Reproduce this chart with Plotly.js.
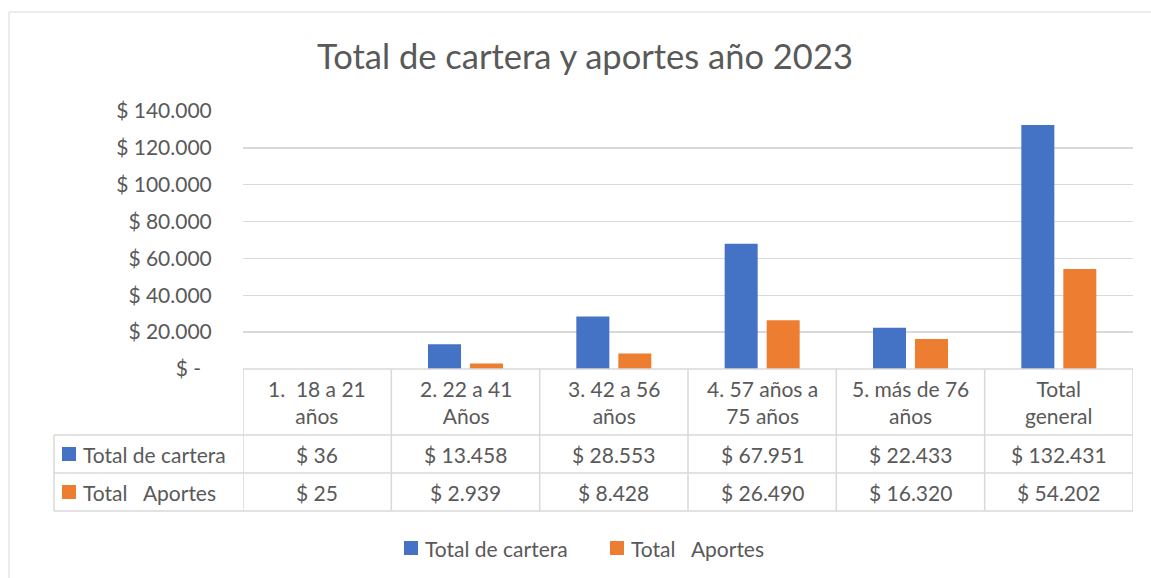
<!DOCTYPE html>
<html>
<head>
<meta charset="utf-8">
<script src="https://cdn.plot.ly/plotly-3.0.1.min.js"></script>
<style>
  html, body { margin: 0; padding: 0; background: #fff; }
  #chart { width: 1151px; height: 578px; }
</style>
</head>
<body>
<div id="chart"></div>
<script>
// ---- Data ----
const categories = ["1.  18 a 21<br>años", "2. 22 a 41<br>Años", "3. 42 a 56<br>años", "4. 57 años a<br>75 años", "5. más de 76<br>años", "Total<br>general"];
const cartera = [36, 13458, 28553, 67951, 22433, 132431];
const aportes = [25, 2939, 8428, 26490, 16320, 54202];
const seriesNames = ["Total de cartera", "Total\u00a0\u00a0\u00a0Aportes"];
const tickVals = [0, 20000, 40000, 60000, 80000, 100000, 120000, 140000];
const tickText = ["$ -\u00a0\u00a0", "$ 20.000", "$ 40.000", "$ 60.000", "$ 80.000", "$ 100.000", "$ 120.000", "$ 140.000"];

const BLUE = "#4472C4", ORANGE = "#ED7D31", TXT = "#595959", GRID = "#d9d9d9";
const FONT = "Lato, 'Open Sans', sans-serif";

function fmt(v) {
  return "$ " + String(v).replace(/\B(?=(\d{3})+(?!\d))/g, ".");
}

const xIdx = categories.map((c, i) => i);

// pixel geometry helpers (plot area: x 243..1133, y 111..369)
const L = 243, R = 1133, T = 111, B = 369;
const px = X => (X - L) / (R - L);       // paper x
const py = Y => (B - Y) / (B - T);       // paper y

const traces = [
  { type: "bar", x: xIdx, y: cartera, name: seriesNames[0], marker: { color: BLUE },
    width: 0.2225, offset: -0.2528, hoverinfo: "y" },
  { type: "bar", x: xIdx, y: aportes, name: seriesNames[1], marker: { color: ORANGE },
    width: 0.2225, offset: 0.0303, hoverinfo: "y" }
];

const shapes = [];
const annotations = [];

// outer chart border
shapes.push({ type: "rect", xref: "paper", yref: "paper", x0: px(9), x1: px(1160), y0: py(590), y1: py(12),
  line: { color: GRID, width: 1 }, fillcolor: "rgba(0,0,0,0)", layer: "below" });

// table horizontal lines
const rowY = [435, 473, 511];
shapes.push({ type: "line", xref: "paper", yref: "paper", x0: 0, x1: 1, y0: 0, y1: 0, line: { color: GRID, width: 1.5 } });
rowY.forEach(Y => shapes.push({ type: "line", xref: "paper", yref: "paper", x0: px(54), x1: 1, y0: py(Y), y1: py(Y), line: { color: GRID, width: 1.5 } }));
// table vertical lines at category boundaries
for (let i = 0; i <= categories.length; i++) {
  shapes.push({ type: "line", xref: "x", yref: "paper", x0: i - 0.5, x1: i - 0.5, y0: 0, y1: py(511), line: { color: GRID, width: 1.5 } });
}
shapes.push({ type: "line", xref: "paper", yref: "paper", x0: px(54), x1: px(54), y0: py(435), y1: py(511), line: { color: GRID, width: 1.5 } });

// category labels
categories.forEach((c, i) => annotations.push({ xref: "x", yref: "paper", x: i, y: py(402), text: c, showarrow: false,
  font: { family: FONT, size: 21, color: TXT }, xanchor: "center", yanchor: "middle", align: "center" }));

// table values + row legend keys
const rows = [{ vals: cartera, color: BLUE, name: seriesNames[0], Y: 454 }, { vals: aportes, color: ORANGE, name: seriesNames[1], Y: 492 }];
rows.forEach(r => {
  r.vals.forEach((v, i) => annotations.push({ xref: "x", yref: "paper", x: i, y: py(r.Y), text: fmt(v), showarrow: false,
    font: { family: FONT, size: 21, color: TXT }, xanchor: "center", yanchor: "middle" }));
  shapes.push({ type: "rect", xref: "paper", yref: "paper", x0: px(62), x1: px(76), y0: py(r.Y + 7), y1: py(r.Y - 7),
    fillcolor: r.color, line: { width: 0 } });
  annotations.push({ xref: "paper", yref: "paper", x: px(81), y: py(r.Y), text: r.name, showarrow: false,
    font: { family: FONT, size: 21, color: TXT }, xanchor: "left", yanchor: "middle" });
});

// bottom legend
const legendItems = [{ name: seriesNames[0], color: BLUE, X: 404 }, { name: seriesNames[1], color: ORANGE, X: 610 }];
const LEGY = 548;
legendItems.forEach(it => {
  shapes.push({ type: "rect", xref: "paper", yref: "paper", x0: px(it.X), x1: px(it.X + 14), y0: py(LEGY + 7), y1: py(LEGY - 7),
    fillcolor: it.color, line: { width: 0 } });
  annotations.push({ xref: "paper", yref: "paper", x: px(it.X + 19), y: py(LEGY), text: it.name, showarrow: false,
    font: { family: FONT, size: 21, color: TXT }, xanchor: "left", yanchor: "middle" });
});

const layout = {
  width: 1151, height: 578,
  margin: { l: L, r: 1151 - R, t: T, b: 578 - B, pad: 0 },
  paper_bgcolor: "#fff", plot_bgcolor: "#fff",
  font: { family: FONT, color: TXT },
  title: { text: "Total de cartera y aportes año 2023", font: { family: FONT, size: 34.5, color: TXT },
    xref: "container", yref: "container", x: 585 / 1151, y: 1 - 57 / 578, xanchor: "center", yanchor: "middle" },
  barmode: "overlay",
  showlegend: false,
  xaxis: { range: [-0.5, categories.length - 0.5], showticklabels: false, showgrid: false, zeroline: false,
    showline: false, ticks: "", fixedrange: true },
  yaxis: { range: [0, 140000], tickvals: tickVals, ticktext: tickText, showgrid: true, gridcolor: GRID, gridwidth: 1.5,
    zeroline: false, showline: false, ticks: "outside", ticklen: 26, tickcolor: "rgba(0,0,0,0)",
    tickfont: { family: FONT, size: 21, color: TXT }, fixedrange: true },
  shapes: shapes,
  annotations: annotations
};

Plotly.newPlot("chart", traces, layout, { displayModeBar: false, staticPlot: true });
</script>
</body>
</html>
